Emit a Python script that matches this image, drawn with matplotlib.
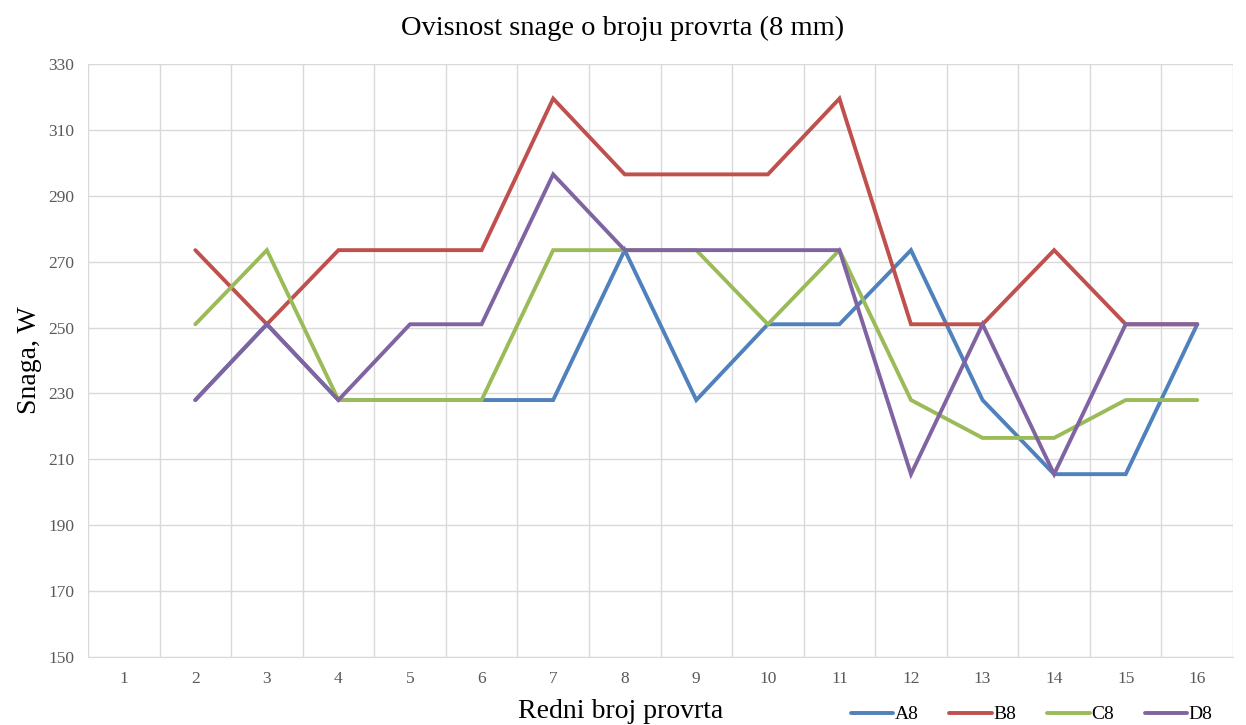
import matplotlib
matplotlib.use("Agg")
import matplotlib.pyplot as plt

categories = list(range(1, 17))
x_vals = list(range(2, 17))
A8 = [228, 251, 228, 228, 228, 228, 273.5, 228, 251, 251, 273.5, 228, 205.5, 205.5, 251]
B8 = [273.5, 251, 273.5, 273.5, 273.5, 319.5, 296.5, 296.5, 296.5, 319.5, 251, 251, 273.5, 251, 251]
C8 = [251, 273.5, 228, 228, 228, 273.5, 273.5, 273.5, 251, 273.5, 228, 216.5, 216.5, 228, 228]
D8 = [228, 251, 228, 251, 251, 296.5, 273.5, 273.5, 273.5, 273.5, 205.5, 251, 205.5, 251, 251]
series = [("A8", A8, "#4F81BD"), ("B8", B8, "#C0504D"), ("C8", C8, "#9BBB59"), ("D8", D8, "#8064A2")]
yticks = list(range(150, 331, 20))

plt.rcParams['font.family'] = ['Liberation Serif', 'DejaVu Serif']

fig = plt.figure(figsize=(12.46, 7.25), dpi=100)
ax = fig.add_axes([0.0706, 0.0938, 0.919, 0.8179])

for name, vals, col in series:
    ax.plot(x_vals, vals, color=col, lw=2.8, label=name, solid_capstyle='round', solid_joinstyle='miter')

ax.set_xlim(0.5, 16.5)
ax.set_ylim(150, 330)
ax.set_yticks(yticks)
ax.set_xticks(categories)
ax.set_xticks([c + 0.5 for c in range(0, 17)], minor=True)
ax.grid(False)
ax.grid(which='minor', axis='x', color='#D9D9D9', lw=1)
ax.grid(which='major', axis='y', color='#D9D9D9', lw=1)
ax.set_axisbelow(True)
for s in ['top', 'right', 'left']:
    ax.spines[s].set_visible(False)
ax.spines['bottom'].set_color('#D9D9D9')
ax.tick_params(axis='both', which='both', length=0, colors='#595959', labelsize=12.5)
ax.tick_params(axis='x', pad=10)
ax.tick_params(axis='y', pad=10)

fig.text(0.5, 0.9517, "Ovisnost snage o broju provrta (8 mm)", fontsize=20.5, ha='center', va='baseline')
fig.text(0.498, 0.0097, "Redni broj provrta", fontsize=20, ha='center', va='baseline')
ax.set_ylabel("Snaga, W", fontsize=20, labelpad=4)

fig.legend(loc='lower right', bbox_to_anchor=(0.987, -0.022), ncol=4, frameon=False,
           fontsize=14, handlelength=2.2, columnspacing=1.6, handletextpad=0.05)

fig.savefig("out.png", dpi=100)
